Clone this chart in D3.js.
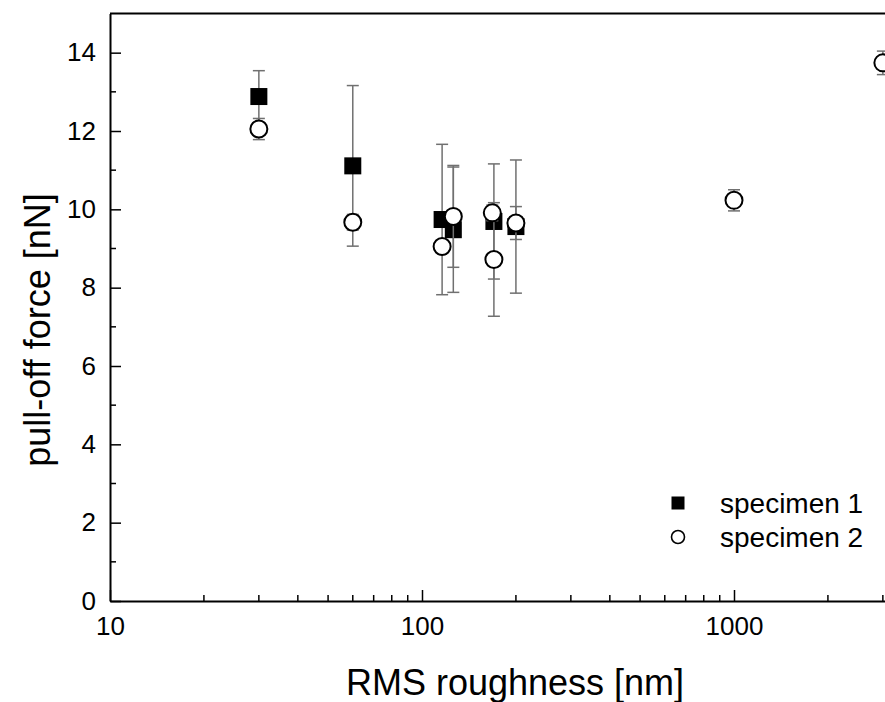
<!DOCTYPE html>
<html><head><meta charset="utf-8">
<script src="https://cdn.jsdelivr.net/npm/d3@7"></script>
<style>body{margin:0;background:#fff}svg{display:block;font-family:"Liberation Sans",Arial,sans-serif}</style>
</head><body><svg id="c" width="885" height="702"></svg>
<script>
const s1X=[30,60,116,126,170,200];
const s1Y=[12.88,11.11,9.74,9.48,9.69,9.56];
const s1E=[0.66,2.05,1.92,1.6,1.47,1.7];
const s2X=[30,60,116,126,168,170,200,1000,3000];
const s2Y=[12.05,9.67,9.05,9.82,9.91,8.72,9.65,10.23,13.74];
const s2E=[0.27,0.2,0.12,1.3,0.2,1.45,0.42,0.27,0.3];
const xTicks=[10,100,1000];
const yTicks=[0,2,4,6,8,10,12,14];
const seriesNames=["specimen 1","specimen 2"];

const svg=d3.select("#c");
const L=110,T=13.5,B=601;
const x=d3.scaleLog().domain([10,10000]).range([L,L+312*3]);
const y=d3.scaleLinear().domain([0,15]).range([B,T]);
const R=x(10000);

// frame
svg.append("line").attr("x1",L).attr("x2",R).attr("y1",T).attr("y2",T).attr("stroke","#000").attr("stroke-width",2);
svg.append("line").attr("x1",R).attr("x2",R).attr("y1",T).attr("y2",B).attr("stroke","#000").attr("stroke-width",2);

// x axis
const minorX=[];[10,100,1000].forEach(d=>{for(let k=2;k<=9;k++)minorX.push(d*k);});
const gx=svg.append("g").attr("transform",`translate(0,${B})`);
gx.call(d3.axisBottom(x).tickValues(xTicks).tickFormat(d3.format("d")).tickSizeInner(-11).tickSizeOuter(0).tickPadding(16));
gx.append("g").selectAll("line").data(minorX).join("line").attr("x1",d=>x(d)).attr("x2",d=>x(d)).attr("y1",0).attr("y2",-6).attr("stroke","#000").attr("stroke-width",1.5);
gx.select(".domain").attr("stroke-width",2);
gx.selectAll(".tick line").attr("stroke-width",1.5);
gx.selectAll("text").attr("font-size",26).attr("fill","#000").attr("font-family","Liberation Sans, Arial, sans-serif");

// y axis
const minorY=d3.range(1,15,2);
const gy=svg.append("g").attr("transform",`translate(${L},0)`);
gy.call(d3.axisLeft(y).tickValues(yTicks).tickSizeInner(-11).tickSizeOuter(0).tickPadding(14));
gy.append("g").selectAll("line").data(minorY).join("line").attr("y1",d=>y(d)).attr("y2",d=>y(d)).attr("x1",0).attr("x2",6).attr("stroke","#000").attr("stroke-width",1.5);
gy.select(".domain").attr("stroke-width",2);
gy.selectAll(".tick line").attr("stroke-width",1.5);
gy.selectAll("text").attr("font-size",26).attr("fill","#000").attr("font-family","Liberation Sans, Arial, sans-serif");

// titles
svg.append("text").attr("x",515).attr("y",695).attr("text-anchor","middle").attr("font-size",36).text("RMS roughness [nm]");
svg.append("text").attr("transform","translate(50,330) rotate(-90)").attr("text-anchor","middle").attr("font-size",36).text("pull-off force [nN]");

function errBars(xs,ys,es){
  const g=svg.append("g").attr("stroke","#707070").attr("stroke-width",1.5);
  xs.forEach((xv,i)=>{
    const cx=x(xv),y1=y(ys[i]+es[i]),y2=y(ys[i]-es[i]);
    g.append("line").attr("x1",cx).attr("x2",cx).attr("y1",y1).attr("y2",y2);
    g.append("line").attr("x1",cx-6).attr("x2",cx+6).attr("y1",y1).attr("y2",y1);
    g.append("line").attr("x1",cx-6).attr("x2",cx+6).attr("y1",y2).attr("y2",y2);
  });
}
const d1=s1X.map((v,i)=>({x:v,y:s1Y[i]}));
const d2=s2X.map((v,i)=>({x:v,y:s2Y[i]}));
errBars(s1X,s1Y,s1E);
svg.append("g").selectAll("rect").data(d1).join("rect").attr("x",d=>x(d.x)-8.5).attr("y",d=>y(d.y)-8.5).attr("width",17).attr("height",17).attr("fill","#000");
errBars(s2X,s2Y,s2E);
svg.append("g").selectAll("circle").data(d2).join("circle").attr("cx",d=>x(d.x)).attr("cy",d=>y(d.y)).attr("r",8.5).attr("fill","#fff").attr("stroke","#000").attr("stroke-width",2);

// legend
svg.append("rect").attr("x",671.5).attr("y",496.5).attr("width",13).attr("height",13).attr("fill","#000");
svg.append("circle").attr("cx",678).attr("cy",537).attr("r",6.5).attr("fill","#fff").attr("stroke","#000").attr("stroke-width",1.6);
svg.append("text").attr("x",720).attr("y",513).attr("font-size",28).text(seriesNames[0]);
svg.append("text").attr("x",720).attr("y",547).attr("font-size",28).text(seriesNames[1]);
</script></body></html>
